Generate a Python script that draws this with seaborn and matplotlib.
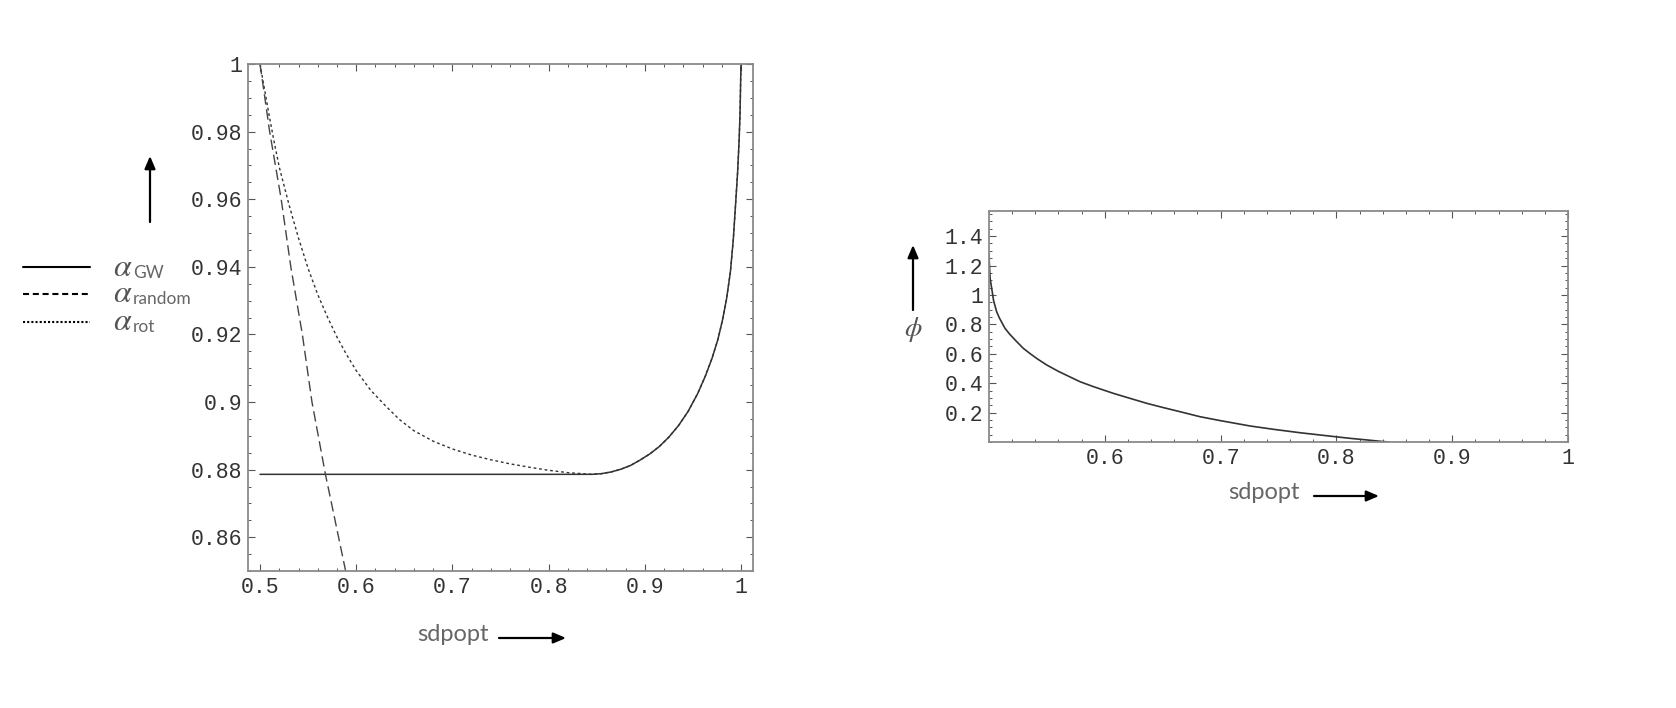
import numpy as np
import matplotlib
matplotlib.use('Agg')
import matplotlib.pyplot as plt
from matplotlib.ticker import MultipleLocator, FuncFormatter
import seaborn as sns

# values
# left panel: approximation ratios vs sdpopt
gw_x = [0.500, 0.600, 0.700, 0.800, 0.845, 0.855, 0.865, 0.875, 0.885, 0.895, 0.905,
        0.915, 0.925, 0.935, 0.945, 0.955, 0.963, 0.970, 0.976, 0.981, 0.985, 0.989,
        0.992, 0.9945, 0.9965, 0.998, 0.999, 1.000]
gw_y = [0.8786, 0.8786, 0.8786, 0.8786, 0.8786, 0.8788, 0.8793, 0.8801, 0.8812, 0.8828, 0.8846,
        0.8868, 0.8896, 0.8930, 0.8972, 0.9025, 0.9077, 0.9130, 0.9185, 0.9245, 0.9305, 0.9385,
        0.9480, 0.9590, 0.9680, 0.9770, 0.9850, 1.0000]

rnd_x = [0.500, 0.510, 0.522, 0.532, 0.544, 0.554, 0.568, 0.578, 0.589]
rnd_y = [1.000, 0.980, 0.960, 0.940, 0.920, 0.900, 0.8786, 0.865, 0.850]

rot_x = [0.500, 0.505, 0.510, 0.515, 0.520, 0.530, 0.540, 0.550, 0.560, 0.570, 0.580,
         0.590, 0.600, 0.615, 0.630, 0.645, 0.660, 0.680, 0.700, 0.720, 0.740, 0.760,
         0.780, 0.800, 0.820, 0.840]
rot_y = [1.000, 0.992, 0.984, 0.9765, 0.9695, 0.9585, 0.9485, 0.9395, 0.9318, 0.9252, 0.9192,
         0.9140, 0.9093, 0.9035, 0.8990, 0.8948, 0.8915, 0.8884, 0.8861, 0.8843, 0.8829, 0.8817,
         0.8807, 0.8798, 0.8791, 0.8787]

# right panel: phi vs sdpopt
phi_x = [0.5000, 0.5005, 0.5010, 0.5023, 0.5040, 0.5066, 0.5090, 0.5138, 0.5180, 0.5230,
         0.5296, 0.5360, 0.5420, 0.5498, 0.5600, 0.5786, 0.5900, 0.6073, 0.6200, 0.6362,
         0.6500, 0.6650, 0.6822, 0.7000, 0.7254, 0.7450, 0.7686, 0.7900, 0.8117, 0.8250,
         0.8377, 0.8450]
phi_y = [1.280, 1.180, 1.110, 1.046, 0.960, 0.886, 0.843, 0.773, 0.732, 0.690,
         0.637, 0.598, 0.564, 0.524, 0.480, 0.410, 0.377, 0.331, 0.301, 0.263,
         0.235, 0.206, 0.172, 0.145, 0.109, 0.087, 0.063, 0.044, 0.025, 0.015,
         0.005, 0.000]

legend_names = ['GW', 'random', 'rot']

sns.set_style('ticks')
plt.rcParams['mathtext.fontset'] = 'stix'
plt.rcParams['font.family'] = ['Liberation Mono', 'DejaVu Sans']

W, H = 1676, 708
fig = plt.figure(figsize=(W / 100, H / 100), dpi=100)
fig.patch.set_facecolor('white')

ax1 = fig.add_axes([248 / W, 1 - 571 / H, 505 / W, 507 / H])
ax2 = fig.add_axes([989 / W, 1 - 442 / H, 579 / W, 231 / H])

line_col = '#333333'
frame_col = '#8a8a8a'

# the rotation curve follows the GW curve once they meet
rot_all_x = rot_x + gw_x[4:]
rot_all_y = rot_y + gw_y[4:]

sns.lineplot(x=gw_x, y=gw_y, ax=ax1, color=line_col, lw=1.1, estimator=None, sort=False)
sns.lineplot(x=rot_all_x, y=rot_all_y, ax=ax1, color=line_col, lw=1.0,
             linestyle=(0, (2, 2)), estimator=None, sort=False)
sns.lineplot(x=rnd_x, y=rnd_y, ax=ax1, color='#444444', lw=1.0,
             linestyle=(0, (7.5, 3.5)), estimator=None, sort=False)

sns.lineplot(x=phi_x, y=phi_y, ax=ax2, color=line_col, lw=1.2, estimator=None, sort=False)

ax1.set_xlim(0.4875, 1.0125)
ax1.set_ylim(0.85, 1.0)
ax2.set_xlim(0.5, 1.0)
ax2.set_ylim(0, np.pi / 2)

fmt = FuncFormatter(lambda v, p: f'{round(v, 6):g}')

ax1.xaxis.set_major_locator(MultipleLocator(0.1))
ax1.xaxis.set_minor_locator(MultipleLocator(0.02))
ax1.yaxis.set_major_locator(MultipleLocator(0.02))
ax1.yaxis.set_minor_locator(MultipleLocator(0.005))
ax2.set_xticks([0.6, 0.7, 0.8, 0.9, 1.0])
ax2.xaxis.set_minor_locator(MultipleLocator(0.02))
ax2.set_yticks([0.2, 0.4, 0.6, 0.8, 1.0, 1.2, 1.4])
ax2.yaxis.set_minor_locator(MultipleLocator(0.05))

for ax in (ax1, ax2):
    ax.xaxis.set_major_formatter(fmt)
    ax.yaxis.set_major_formatter(fmt)
    ax.set_xlabel('')
    ax.set_ylabel('')
    for s in ax.spines.values():
        s.set_color(frame_col)
        s.set_linewidth(1.3)
    ax.tick_params(which='both', direction='in', top=True, right=True,
                   color='#555555', labelcolor='#333333', labelsize=15.5, pad=4)
    ax.tick_params(which='major', length=5, width=0.8)
    ax.tick_params(which='minor', length=2.5, width=0.7)

# overlay in picture pixels for arrows, legend and labels
ov = fig.add_axes([0, 0, 1, 1])
ov.set_xlim(0, W)
ov.set_ylim(H, 0)
ov.axis('off')
ov.patch.set_visible(False)

arrow = dict(arrowstyle='-|>,head_length=0.75,head_width=0.32', lw=1.6, color='black',
             shrinkA=0, shrinkB=0, mutation_scale=10)
ov.annotate('', xy=(150, 156), xytext=(150, 222), arrowprops=arrow)
ov.annotate('', xy=(566, 638), xytext=(499, 638), arrowprops=arrow)
ov.annotate('', xy=(913, 245), xytext=(913, 310), arrowprops=arrow)
ov.annotate('', xy=(1379, 496), xytext=(1314, 496), arrowprops=arrow)

ov.text(417, 641, 'sdpopt', fontfamily='Lato', fontsize=17, color='#666666',
        ha='left', va='baseline')
ov.text(1228, 499, 'sdpopt', fontfamily='Lato', fontsize=17, color='#666666',
        ha='left', va='baseline')
ov.text(913, 330, r'$\phi$', fontsize=20, color='#555555', ha='center', va='center')

legend_styles = ['-', (0, (2.9, 1.8)), (0, (1, 1))]
legend_y = [267, 294, 321.5]
for name, ls, y in zip(legend_names, legend_styles, legend_y):
    ov.plot([23, 90], [y, y], color='black', lw=1.5, linestyle=ls)
    ov.text(113, y + 8.5, r'$\alpha$', fontsize=23, color='#555555', ha='left', va='baseline')
    ov.text(133, y + 10.5, name, fontfamily='Lato', fontsize=12.5, color='#666666',
            ha='left', va='baseline')

fig.savefig('out.png', dpi=100)
